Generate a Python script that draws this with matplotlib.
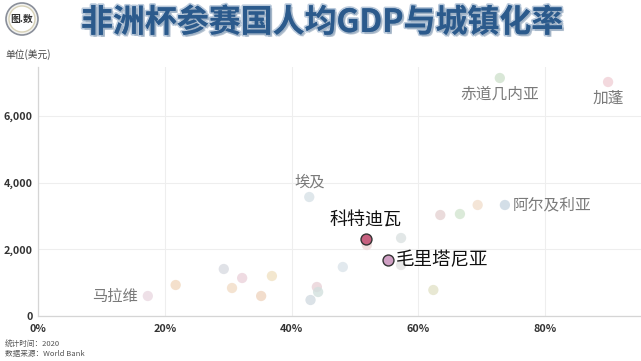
import matplotlib
matplotlib.use("Agg")
import matplotlib.pyplot as plt
import matplotlib.patheffects as pe
from matplotlib.patches import Circle

plt.rcParams['font.family'] = ['Noto Sans CJK SC', 'DejaVu Sans']

countries = ["马拉维", "埃塞俄比亚", "科摩罗", "布基纳法索", "津巴布韦", "苏丹", "几内亚",
             "埃及", "塞拉利昂", "马里", "几内亚比绍", "塞内加尔", "科特迪瓦", "尼日利亚",
             "毛里塔尼亚", "加纳", "喀麦隆", "冈比亚", "摩洛哥", "佛得角", "突尼斯",
             "阿尔及利亚", "赤道几内亚", "加蓬"]
urban = [17.3, 21.7, 29.3, 30.6, 32.2, 35.2, 36.9,
         42.8, 43.0, 44.0, 44.2, 48.1, 51.7, 51.9,
         55.2, 57.3, 57.3, 62.4, 63.5, 66.6, 69.4,
         73.7, 72.9, 90.0]
gdp = [600, 930, 1410, 840, 1140, 600, 1200,
       3570, 480, 870, 720, 1470, 2320, 2130,
       1680, 2340, 1530, 780, 3030, 3060, 3330,
       3330, 7140, 7020]
colors = ["#ead9e2", "#f2d9c0", "#d9dbe2", "#f2dcc6", "#ebd3db", "#efd5c0", "#f1e2c4",
          "#d8e1e7", "#d2dbe1", "#e9d2d8", "#d2e0de", "#dbe4ea", "#c7607f", "#eed9d9",
          "#cf9fc3", "#dbe2e1", "#e1e1e1", "#e3e3c9", "#e5d3d3", "#d3e5d0", "#f2dfce",
          "#c9d6e2", "#d0e2cd", "#f0d0d6"]
highlight = ["科特迪瓦", "毛里塔尼亚"]

xticks = [0, 20, 40, 60, 80]
xticklabels = ["0%", "20%", "40%", "60%", "80%"]
yticks = [0, 2000, 4000, 6000]
yticklabels = ["0", "2,000", "4,000", "6,000"]

# label settings: name -> (dx, dy, ha, va, color, size)
labels = {
    "马拉维": (-7, 0, "right", "center", "#7a7a7a", 11),
    "埃及": (0, 11, "center", "center", "#7a7a7a", 11),
    "科特迪瓦": (0, 13, "center", "center", "#111111", 13),
    "毛里塔尼亚": (6, 0, "left", "center", "#111111", 13.3),
    "阿尔及利亚": (5.5, 0, "left", "center", "#7a7a7a", 11.3),
    "赤道几内亚": (0, -11.5, "center", "center", "#7a7a7a", 11.3),
    "加蓬": (0, -12, "center", "center", "#7a7a7a", 11.3),
}

fig = plt.figure(figsize=(6.41, 3.61), dpi=100)
ax = fig.add_axes([38.3 / 641, 1 - 316 / 361, 1 - 38.3 / 641, (316 - 67) / 361])
ax.set_xlim(0, 95.2)
ax.set_ylim(0, 7470)

for name, x, y, c in zip(countries, urban, gdp, colors):
    if name in highlight:
        ax.scatter([x], [y], s=62, color=c, edgecolor="#333333", linewidth=1.0, zorder=4)
    else:
        ax.scatter([x], [y], s=55, color=c, edgecolor="none", alpha=0.8, zorder=3)
    if name in labels:
        dx, dy, ha, va, tc, fs = labels[name]
        ax.annotate(name, (x, y), xytext=(dx, dy), textcoords="offset points",
                    ha=ha, va=va, color=tc, fontsize=fs, zorder=5)

ax.set_xticks(xticks)
ax.set_xticklabels(xticklabels)
ax.set_yticks(yticks)
ax.set_yticklabels(yticklabels)
ax.tick_params(axis="both", length=0, labelsize=7.8, colors="#333333")
for lab in ax.get_xticklabels() + ax.get_yticklabels():
    lab.set_fontweight("bold")
ax.tick_params(axis="x", pad=6)
ax.tick_params(axis="y", pad=4)
ax.grid(True, color="#eeeeee", linewidth=0.8, zorder=0)
ax.set_axisbelow(True)
for s in ["top", "right"]:
    ax.spines[s].set_visible(False)
for s in ["left", "bottom"]:
    ax.spines[s].set_color("#d5d5d5")
    ax.spines[s].set_linewidth(0.9)

# title
fig.text(0.503, 1 - 23 / 361, "非洲杯参赛国人均GDP与城镇化率", ha="center", va="center",
         fontsize=23, fontweight="heavy", color="#2b5a8c",
         path_effects=[pe.withStroke(linewidth=2.5, foreground="#b9c9db"),
                       pe.SimplePatchShadow(offset=(1.5, -1.5), shadow_rgbFace="#8fa3b8", alpha=0.6),
                       pe.Normal()])

# logo
logo_ax = fig.add_axes([0, 1 - 38 / 361, 44 / 641, 38 / 361])
logo_ax.set_xlim(0, 44)
logo_ax.set_ylim(0, 38)
logo_ax.set_aspect("equal")
logo_ax.axis("off")
logo_ax.add_patch(Circle((22, 19), 16, facecolor="#f3f3f0", edgecolor="#8a8f9a", linewidth=1.2))
logo_ax.add_patch(Circle((22, 19), 13, facecolor="#ffffff", edgecolor="#d8d2b8", linewidth=1.0))
logo_ax.text(22, 19, "图.数", ha="center", va="center", fontsize=7, fontweight="bold", color="#333333")

fig.text(5 / 641, 1 - 55 / 361, "单位(美元)", ha="left", va="center", fontsize=7, color="#444444")
fig.text(5 / 641, 1 - 345 / 361, "统计时间：2020", ha="left", va="center", fontsize=5.5, color="#555555")
fig.text(5 / 641, 1 - 354 / 361, "数据来源：World Bank", ha="left", va="center", fontsize=5.5, color="#555555")

fig.savefig("out.png", dpi=100)
